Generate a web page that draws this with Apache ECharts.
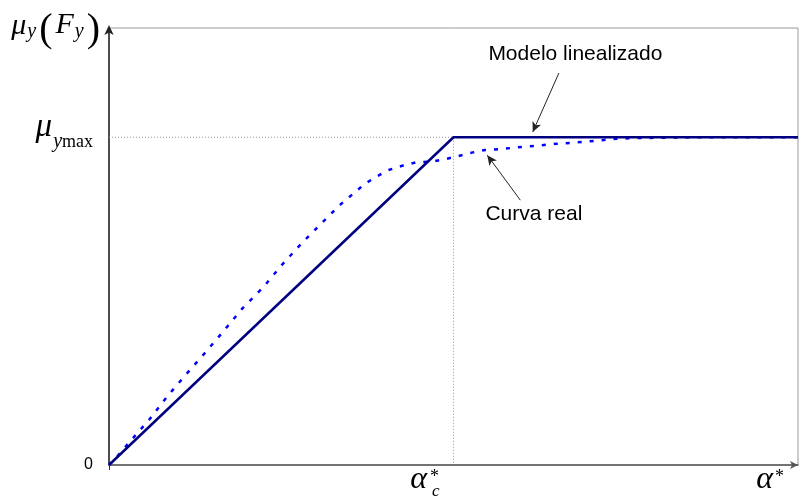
<!DOCTYPE html>
<html>
<head>
<meta charset="utf-8">
<script src="https://cdn.jsdelivr.net/npm/echarts@6/dist/echarts.min.js"></script>
<style>html,body{margin:0;padding:0;background:#fff;}#c{width:802px;height:499px;}</style>
</head>
<body>
<div id="c"></div>
<script>
// normalized axis: alpha* in [0,100], mu_y in [0,100]
const alphaC = 50;
const muYmax = 75;
const modelLine = [[0, 0], [alphaC, muYmax], [100, muYmax]];
const realCurve = [
  [0, 0], [1.6, 2.7], [3.0, 5.3], [5.8, 10.3], [8.4, 15.6], [11.0, 20.4],
  [13.9, 25.6], [16.5, 30.4], [19.4, 35.9], [22.4, 40.7], [25.1, 45.8],
  [28.0, 50.8], [30.9, 55.4], [33.5, 59.5], [35.6, 62.3], [37.1, 64.3],
  [38.7, 65.9], [40.6, 67.5], [42.8, 68.6], [44.7, 69.3], [46.9, 69.4],
  [48.8, 70.0], [50.2, 70.5], [52.4, 71.4], [54.6, 72.1], [56.8, 72.3],
  [60.1, 72.8], [65.0, 73.5], [69.4, 74.0], [73.1, 74.6], [76.1, 74.8],
  [85.0, 75.0], [100, 75.0]
];
const guideLine = [[0, muYmax], [alphaC, muYmax], [alphaC, 0]];
const yTicks = [0, muYmax];
const xTicks = [alphaC, 100];
const arrowModel = [[65.3, 89.7], [61.5, 76.2]];
const arrowReal = [[59.7, 60.6], [54.9, 70.9]];
const labelModel = 'Modelo linealizado';
const labelReal = 'Curva real';

const serif = 'Liberation Serif';
function tok(size, lh, pad, extra) {
  return Object.assign({
    fontFamily: serif, fontSize: size, lineHeight: lh, verticalAlign: 'top', align: 'left',
    padding: pad, color: '#000'
  }, extra || {});
}
const chart = echarts.init(document.getElementById('c'));
chart.setOption({
  animation: false,
  grid: { left: 109, right: 4, top: 28, bottom: 34, outerBoundsMode: 'none', containLabel: false, show: true, borderColor: '#999', borderWidth: 1 },
  xAxis: {
    type: 'value', min: 0, max: 100,
    splitLine: { show: false },
    axisLine: { lineStyle: { color: '#555', width: 1.5 }, symbol: ['none', 'arrow'], symbolSize: [6, 8], symbolOffset: [0, 0] },
    axisTick: { show: true, customValues: [0], length: 5, lineStyle: { color: '#333' } },
    axisLabel: {
      customValues: xTicks, align: 'right', verticalAlign: 'top', margin: -3, padding: [0, 14, 0, 0],
      formatter: v => v === alphaC ? '{a|α}{sup|*}{sub|c}' : '{a|α}{sup2|*}',
      rich: {
        a: tok(32, 17, [2, 0, 0, 0], { fontStyle: 'italic' }),
        sup: tok(18, 17, [6, 0, 0, 3], { width: 1 }),
        sub: tok(17, 17, [21, 0, 0, 1], { fontStyle: 'italic' }),
        sup2: tok(18, 17, [6, 0, 0, 2])
      }
    }
  },
  yAxis: {
    type: 'value', min: 0, max: 100,
    splitLine: { show: false },
    axisLine: { lineStyle: { color: '#222', width: 1.5 }, symbol: ['none', 'arrow'], symbolSize: [7, 10], symbolOffset: [0, 3] },
    axisTick: { show: false },
    name: '{mu|μ}{sub|y}{par|(}{F|F}{sub|y}{par|)}',
    nameLocation: 'end', nameGap: 18,
    nameTextStyle: {
      align: 'right', verticalAlign: 'top', padding: [0, 8, 0, 0],
      rich: {
        mu: tok(30, 30, [1, 0, 0, 0], { fontStyle: 'italic' }),
        F: tok(30, 30, [0, 0, 0, 2], { fontStyle: 'italic' }),
        sub: tok(20, 30, [12, 0, 0, 1], { fontStyle: 'italic' }),
        par: tok(40, 30, [0, 1, 0, 3])
      }
    },
    axisLabel: {
      customValues: yTicks, margin: 16, verticalAlign: 'middle',
      formatter: v => v === 0 ? '{z|0}' : '{mu|μ}{sub|y}{max|max}',
      rich: {
        z: { fontFamily: 'Liberation Sans', fontSize: 16, lineHeight: 16, verticalAlign: 'top', color: '#000' },
        mu: tok(33, 60, [4, 0, 0, 0], { fontStyle: 'italic' }),
        sub: tok(20, 60, [24, 0, 0, 1], { fontStyle: 'italic' }),
        max: tok(18, 60, [26, 0, 0, 0])
      }
    }
  },
  series: [
    {
      type: 'line', data: guideLine, symbol: 'none', silent: true,
      lineStyle: { color: '#999', width: 1, type: [1, 2] }
    },
    {
      type: 'line', data: realCurve, symbol: 'none', smooth: false,
      lineStyle: { color: '#0000ff', width: 2.5, type: [4, 8] }
    },
    {
      type: 'line', data: modelLine, symbol: 'none',
      lineStyle: { color: '#000080', width: 2.5 },
      markLine: {
        silent: true, symbol: ['none', 'arrow'], symbolSize: [7, 10],
        lineStyle: { color: '#222', width: 1, type: 'solid' },
        label: { show: true, position: 'start', distance: 6, fontFamily: 'Liberation Sans', fontSize: 21, color: '#000' },
        data: [
          [{ coord: arrowModel[0], label: { formatter: labelModel, position: 'start', rotate: 0, offset: [14, -3] } }, { coord: arrowModel[1] }],
          [{ coord: arrowReal[0], label: { formatter: labelReal, position: 'start', rotate: 0, offset: [10, -1] } }, { coord: arrowReal[1] }]
        ]
      }
    }
  ]
});
</script>
</body>
</html>
